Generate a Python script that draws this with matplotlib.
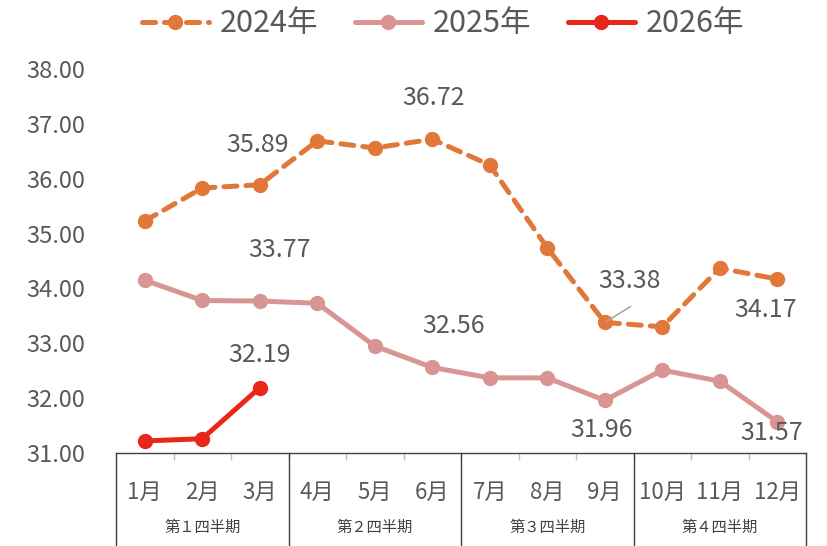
import numpy as np
import matplotlib.pyplot as plt
from matplotlib.transforms import blended_transform_factory

plt.rcParams['font.family'] = ['Noto Sans CJK JP', 'DejaVu Sans']

# data
months = ['1月', '2月', '3月', '4月', '5月', '6月', '7月', '8月', '9月', '10月', '11月', '12月']
quarters = ['第１四半期', '第２四半期', '第３四半期', '第４四半期']
y2024 = [35.23, 35.83, 35.89, 36.69, 36.56, 36.72, 36.25, 34.74, 33.38, 33.30, 34.37, 34.17]
y2025 = [34.15, 33.78, 33.77, 33.73, 32.95, 32.56, 32.37, 32.37, 31.96, 32.51, 32.31, 31.57]
y2026 = [31.22, 31.26, 32.19]
yticks = [31, 32, 33, 34, 35, 36, 37, 38]

c24 = '#E2773A'
c25 = '#D99594'
c26 = '#E8261A'
txt = '#595959'

fig = plt.figure(figsize=(8.28, 5.46), dpi=100)
ax = fig.add_axes([116 / 828, 1 - 453 / 546, 690 / 828, 384 / 546])

x = np.arange(len(months))
ax.plot(x, y2024, color=c24, lw=3.6, ls=(0, (2.6, 1.8)), marker='o', ms=10,
        label='2024年', dash_capstyle='round')
ax.plot(x, y2025, color=c25, lw=3.6, marker='o', ms=10, label='2025年',
        solid_capstyle='round')
ax.plot(x[:len(y2026)], y2026, color=c26, lw=3.6, marker='o', ms=10, label='2026年',
        solid_capstyle='round')

ax.set_xlim(-0.5, 11.5)
ax.set_ylim(31, 38)
ax.set_yticks(yticks)
ax.set_yticklabels(['%.2f' % v for v in yticks], fontsize=17, color=txt)
ax.tick_params(axis='y', length=0, pad=22)
for s in ['top', 'right', 'left']:
    ax.spines[s].set_visible(False)
ax.spines['bottom'].set_color('#404040')
ax.spines['bottom'].set_linewidth(1.0)

ax.set_xticks(x)
ax.set_xticklabels(months, fontsize=16, color=txt)
ax.tick_params(axis='x', length=0, pad=20)
ax.set_xticks(np.arange(0.5, 11, 1), minor=True)
ax.tick_params(axis='x', which='minor', length=5, color='#bfbfbf', width=1)

# quarter boxes
tr = blended_transform_factory(ax.transData, ax.transAxes)
bot = -93 / 384
for b in [-0.5, 2.5, 5.5, 8.5, 11.5]:
    ax.plot([b, b], [0, bot], transform=tr, color='#404040', lw=1.0, clip_on=False)
for i, q in enumerate(quarters):
    ax.text(3 * i + 1, -74 / 384, q, transform=tr, ha='center', va='center',
            fontsize=11, color='#404040')

# data labels (index, series, dx, dy in pixels)
labels = [
    (2, y2024, -2, 40), (5, y2024, 1, 41), (8, y2024, 25, 41), (11, y2024, -12, -31),
    (2, y2025, 20, 51), (5, y2025, 21, 41), (8, y2025, -3, -30), (11, y2025, -6, -11),
    (2, y2026, 0, 33),
]
for i, ser, dx, dy in labels:
    ax.annotate('%.2f' % ser[i], (i, ser[i]), xytext=(dx, dy), textcoords='offset pixels',
                ha='center', va='center', fontsize=18, color=txt)
ax.annotate('', (8, y2024[8]), xytext=(26, 16), textcoords='offset pixels',
            arrowprops=dict(arrowstyle='-', color='#a6a6a6', lw=1.2, shrinkA=0, shrinkB=2))

leg = fig.legend(loc='upper center', bbox_to_anchor=(0.535, 1.035), ncol=3, frameon=False,
                 fontsize=22, handlelength=2.2, columnspacing=1.2, handletextpad=0.35)
for t in leg.get_texts():
    t.set_color(txt)

fig.savefig('out.png', dpi=100)
